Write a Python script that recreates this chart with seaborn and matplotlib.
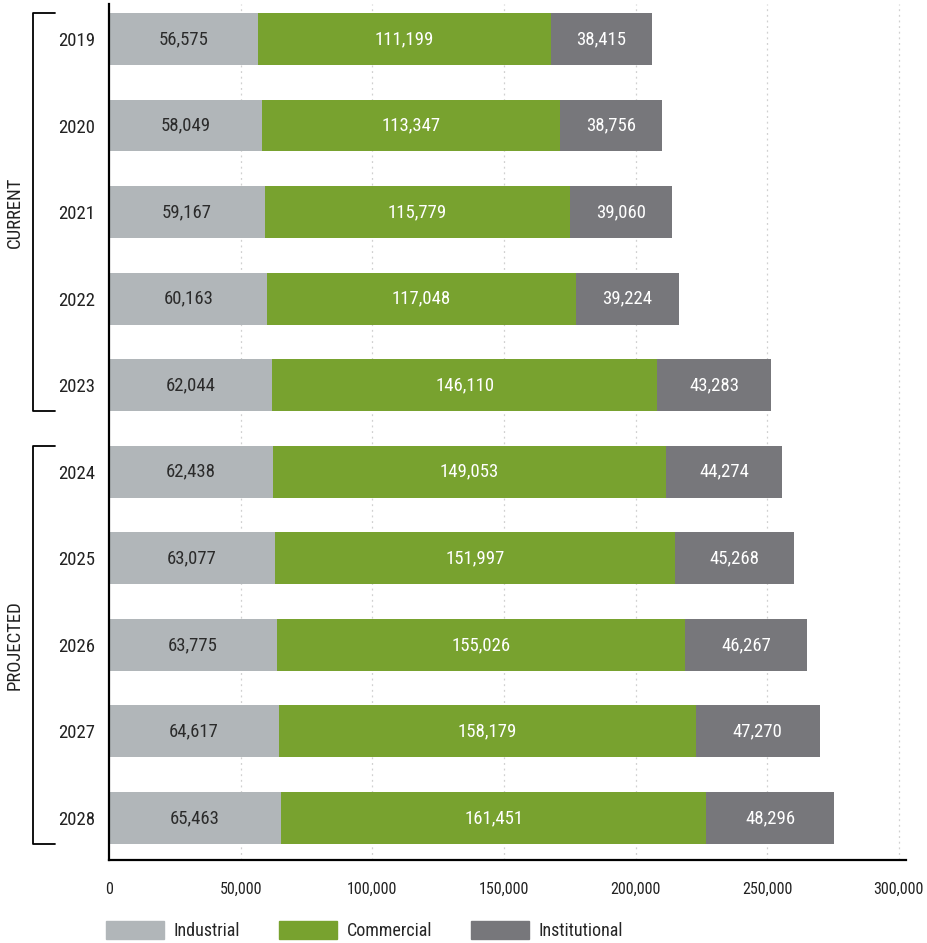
import matplotlib
matplotlib.use("Agg")
import matplotlib.pyplot as plt
from matplotlib import font_manager
import matplotlib.transforms as mtransforms
import seaborn as sns
import pandas as pd

# ================= DATA =================
years = ["2019", "2020", "2021", "2022", "2023", "2024", "2025", "2026", "2027", "2028"]
industrial = [56575, 58049, 59167, 60163, 62044, 62438, 63077, 63775, 64617, 65463]
commercial = [111199, 113347, 115779, 117048, 146110, 149053, 151997, 155026, 158179, 161451]
institutional = [38415, 38756, 39060, 39224, 43283, 44274, 45268, 46267, 47270, 48296]
series_names = ["Industrial", "Commercial", "Institutional"]
groups = [("CURRENT", "2019", "2023"), ("PROJECTED", "2024", "2028")]

# ================= STYLE =================
COLORS = {"Industrial": "#b1b6b9", "Commercial": "#78a22f", "Institutional": "#77777b"}

sns.set_theme(style="white")
available = {f.name for f in font_manager.fontManager.ttflist}
family = []
for name in ["Roboto Condensed", "Liberation Sans Narrow", "Roboto", "DejaVu Sans"]:
    if name in available:
        family.append(name)
plt.rcParams["font.family"] = family + ["DejaVu Sans"]

df = pd.DataFrame({"year": years, "Industrial": industrial,
                   "Commercial": commercial, "Institutional": institutional})
df["cum_ind"] = df["Industrial"]
df["cum_com"] = df["Industrial"] + df["Commercial"]
df["cum_all"] = df["cum_com"] + df["Institutional"]

fig = plt.figure(figsize=(9.28, 9.43), dpi=100)
ax = fig.add_axes([109 / 928, 1 - 860 / 943, 797 / 928, 856 / 943])

# stacked bars: draw totals first, then overlay partial sums
for col, name in [("cum_all", "Institutional"), ("cum_com", "Commercial"), ("cum_ind", "Industrial")]:
    sns.barplot(data=df, y="year", x=col, orient="h", color=COLORS[name],
                width=0.6, saturation=1, linewidth=0, ax=ax, zorder=3)

# value labels
for i, row in df.iterrows():
    ax.text(row["Industrial"] / 2, i, f"{row['Industrial']:,}", ha="center", va="center",
            fontsize=13.5, color="#2b2b2b", zorder=4)
    ax.text(row["cum_ind"] + row["Commercial"] / 2, i, f"{row['Commercial']:,}", ha="center",
            va="center", fontsize=13.5, color="white", zorder=4)
    ax.text(row["cum_com"] + row["Institutional"] / 2, i, f"{row['Institutional']:,}",
            ha="center", va="center", fontsize=13.5, color="white", zorder=4)

# axes
ax.set_xlim(0, 302700)
ax.set_ylim(9.485, -0.404)
ax.set_xticks([0, 50000, 100000, 150000, 200000, 250000, 300000])
ax.set_xticklabels([f"{v:,}" for v in ax.get_xticks()])
ax.set_xlabel("")
ax.set_ylabel("")
ax.tick_params(axis="x", length=0, pad=16, labelsize=11.5, labelcolor="#222222")
ax.tick_params(axis="y", length=0, pad=10, labelsize=13.5, labelcolor="#222222")
for side in ["top", "right"]:
    ax.spines[side].set_visible(False)
for side in ["left", "bottom"]:
    ax.spines[side].set_color("black")
    ax.spines[side].set_linewidth(1.6)
    ax.spines[side].set_zorder(5)

for xv in [50000, 100000, 150000, 200000, 250000, 300000]:
    ax.axvline(xv, color="#d0d0d0", linewidth=0.9, linestyle=(0, (1.5, 3)), zorder=1)

# group brackets
trans = mtransforms.blended_transform_factory(ax.transAxes, ax.transData)
x_line = (33 - 109) / 797
x_tick = (55 - 109) / 797
x_text = (15 - 109) / 797
for label, start, end in groups:
    y0 = years.index(start) - 0.3
    y1 = years.index(end) + 0.3
    ax.plot([x_tick, x_line, x_line, x_tick], [y0, y0, y1, y1], color="black",
            linewidth=1.3, transform=trans, clip_on=False)
    ax.text(x_text, (y0 + y1) / 2, label, rotation=90, ha="center", va="center",
            fontsize=13.5, color="#222222", transform=trans)

# legend
handles = [plt.Rectangle((0, 0), 1, 1, color=COLORS[n]) for n in series_names]
fig.legend(handles, series_names, loc="center left", bbox_to_anchor=(106 / 928, 0.0135),
           ncol=3, frameon=False, fontsize=13, handlelength=3.2, handleheight=1.2,
           handletextpad=0.55, columnspacing=2.15, borderpad=0, borderaxespad=0)

fig.savefig("out.png", dpi=100)
